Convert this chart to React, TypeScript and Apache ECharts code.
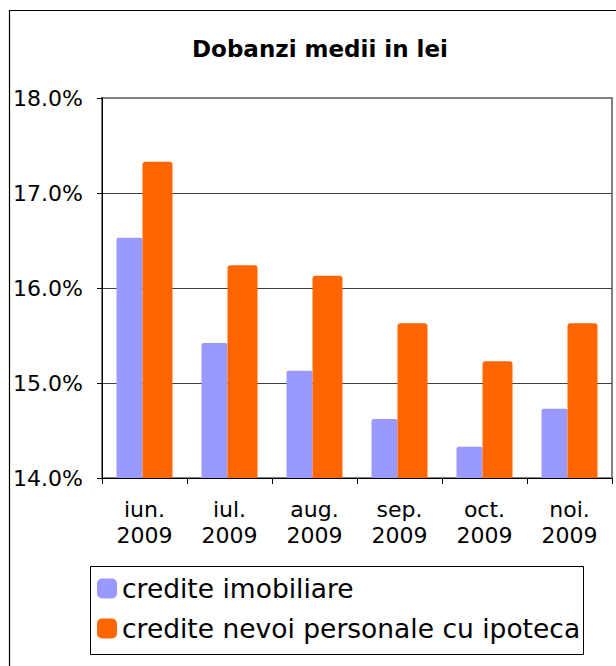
import React, { useEffect, useRef } from "react";
import * as echarts from "echarts";

const categories = ["iun.\n2009", "iul.\n2009", "aug.\n2009", "sep.\n2009", "oct.\n2009", "noi.\n2009"];
const seriesNames = ["credite imobiliare", "credite nevoi personale cu ipoteca"];
const imobiliare = [16.53, 15.42, 15.13, 14.62, 14.33, 14.73];
const nevoiPersonale = [17.33, 16.24, 16.13, 15.63, 15.23, 15.63];
const titleText = "Dobanzi medii in lei";
const yMin = 14;
const yMax = 18;
const yInterval = 1;

const FONT = "DejaVu Sans";

export default function App() {
  const ref = useRef<HTMLDivElement>(null);
  useEffect(() => {
    if (!ref.current) return;
    const chart = echarts.init(ref.current, undefined, { renderer: "svg" });
    chart.setOption({
      animation: false,
      backgroundColor: "#ffffff",
      title: {
        text: titleText,
        left: 192,
        top: 37,
        padding: 0,
        textStyle: { fontFamily: FONT, fontSize: 23, fontWeight: "bold", color: "#000" },
      },
      legend: {
        orient: "vertical",
        left: 97,
        top: 575,
        padding: 0,
        itemWidth: 20,
        itemHeight: 20,
        itemGap: 13,
        icon: "roundRect",
        textStyle: { fontFamily: FONT, fontSize: 26.5, color: "#000", lineHeight: 20 },
        data: seriesNames,
      },
      graphic: [
        {
          type: "rect",
          shape: { x: 9.5, y: 10.5, width: 1000, height: 1000 },
          style: { fill: "none", stroke: "#000", lineWidth: 1.2 },
          z: 0,
        },
        {
          type: "rect",
          shape: { x: 90.5, y: 566.5, width: 493, height: 88 },
          style: { fill: "none", stroke: "#000", lineWidth: 1 },
          z: 0,
        },
      ],
      grid: {
        left: 102,
        top: 98,
        right: 4,
        bottom: 188,
        show: true,
        borderColor: "#808080",
        borderWidth: 2,
        backgroundColor: "transparent",
      },
      xAxis: {
        type: "category",
        data: categories,
        axisLine: { lineStyle: { color: "#000", width: 1 } },
        axisTick: { show: true, length: 6, lineStyle: { color: "#000" } },
        axisLabel: {
          fontFamily: FONT,
          fontSize: 22,
          lineHeight: 26,
          color: "#000",
          margin: 18,
        },
      },
      yAxis: {
        type: "value",
        min: yMin,
        max: yMax,
        interval: yInterval,
        axisLine: { show: true, lineStyle: { color: "#000", width: 1 } },
        axisTick: { show: true, length: 5, lineStyle: { color: "#000" } },
        axisLabel: {
          fontFamily: FONT,
          fontSize: 22,
          color: "#000",
          margin: 19,
          formatter: (v: number) => v.toFixed(1) + "%",
        },
        splitLine: {
          show: true,
          lineStyle: { color: ["#000", "#404040", "#404040", "#404040", "#808080"], width: 1 },
        },
      },
      series: [
        {
          name: seriesNames[0],
          type: "bar",
          data: imobiliare,
          barWidth: 26,
          barGap: "0%",
          itemStyle: { color: "#9999FF", borderRadius: [2, 2, 0, 0] },
        },
        {
          name: seriesNames[1],
          type: "bar",
          data: nevoiPersonale,
          barWidth: 30,
          barGap: "0%",
          itemStyle: { color: "#FF6600", borderRadius: [3, 3, 0, 0] },
        },
      ],
    });
    return () => chart.dispose();
  }, []);
  return (
    <div
      ref={ref}
      style={{ position: "absolute", left: 0, top: 0, width: 616, height: 666 }}
    />
  );
}
